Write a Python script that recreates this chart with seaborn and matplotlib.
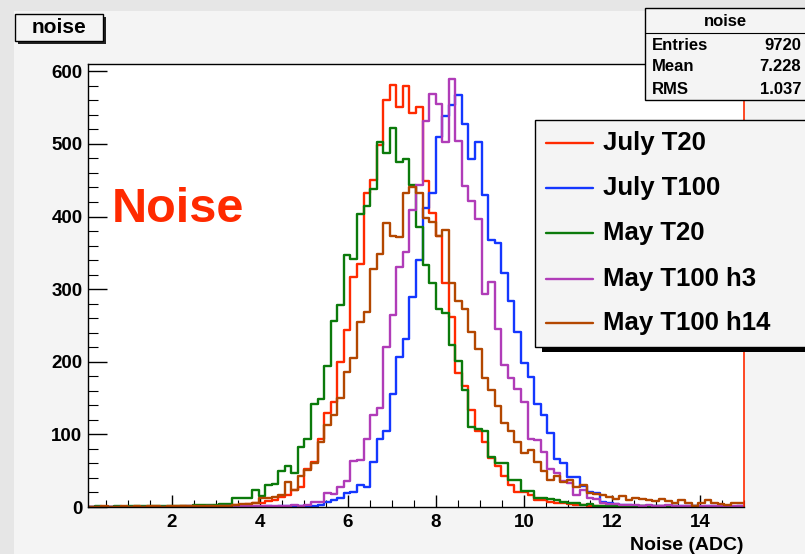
import numpy as np
import pandas as pd
import matplotlib
matplotlib.use("Agg")
import matplotlib.pyplot as plt
import seaborn as sns
from matplotlib.patches import Rectangle
from matplotlib.lines import Line2D
from matplotlib.ticker import MultipleLocator

# ---------------- data ----------------
series_names = ["July T20", "July T100", "May T20", "May T100 h3", "May T100 h14"]
series_colors = ["#ff2a00", "#1437ff", "#0b7a0b", "#b03cb8", "#b34700"]
bin_lo, bin_hi, n_bins = 0.1, 15.0, 100

july_t20 = [0, 0, 0, 0, 0, 0, 0, 0, 0, 0,
            0, 0, 0, 0, 1, 0, 0, 1, 0, 1,
            1, 2, 3, 3, 4, 5, 5, 8, 10, 14,
            17, 23, 27, 52, 62, 93, 130, 145, 200, 244,
            317, 335, 432, 450, 498, 560, 581, 551, 580, 543,
            551, 449, 405, 373, 308, 262, 185, 166, 133, 104,
            89, 68, 56, 42, 30, 21, 20, 17, 10, 9,
            7, 6, 5, 4, 3, 3, 2, 2, 2, 1,
            1, 1, 1, 0, 1, 0, 0, 1, 0, 0,
            0, 0, 0, 0, 0, 0, 0, 0, 0, 0]

july_t100 = [0, 0, 0, 0, 0, 0, 0, 0, 0, 0,
             0, 0, 0, 0, 0, 0, 0, 0, 0, 0,
             0, 0, 0, 0, 0, 0, 0, 1, 0, 1,
             1, 1, 1, 1, 2, 3, 7, 9, 12, 19,
             20, 30, 27, 62, 94, 104, 156, 207, 232, 289,
             340, 412, 433, 509, 538, 554, 568, 528, 479, 503,
             429, 367, 364, 322, 283, 241, 198, 179, 142, 127,
             102, 66, 60, 41, 41, 29, 20, 19, 7, 5,
             4, 3, 3, 2, 2, 2, 1, 1, 1, 2,
             1, 1, 1, 0, 1, 1, 0, 1, 0, 1]

may_t20 = [0, 1, 0, 0, 1, 0, 1, 1, 1, 2,
           1, 1, 2, 1, 2, 2, 3, 3, 3, 3,
           4, 4, 12, 12, 12, 24, 15, 30, 31, 49,
           56, 47, 83, 94, 142, 149, 194, 256, 278, 347,
           341, 403, 414, 438, 502, 488, 522, 475, 479, 443,
           386, 333, 309, 272, 267, 223, 201, 161, 110, 108,
           104, 69, 61, 60, 37, 37, 22, 22, 12, 12,
           11, 9, 7, 6, 5, 3, 4, 2, 2, 2,
           1, 1, 1, 0, 1, 0, 1, 0, 0, 1,
           0, 0, 1, 0, 0, 0, 0, 0, 0, 0]

may_t100_h3 = [0, 0, 0, 0, 0, 0, 0, 0, 0, 0,
               0, 0, 0, 0, 0, 1, 0, 0, 1, 0,
               1, 1, 1, 1, 1, 2, 1, 2, 2, 2,
               2, 3, 2, 3, 7, 7, 19, 18, 27, 36,
               64, 65, 93, 126, 136, 221, 264, 331, 351, 409,
               443, 532, 569, 555, 503, 589, 504, 442, 421, 396,
               293, 310, 245, 195, 177, 163, 145, 94, 92, 76,
               52, 47, 36, 33, 17, 23, 12, 11, 6, 4,
               4, 3, 3, 3, 2, 3, 2, 2, 3, 2,
               2, 1, 2, 2, 1, 1, 2, 1, 1, 1]

may_t100_h14 = [0, 0, 1, 0, 0, 1, 0, 1, 0, 1,
                1, 0, 1, 1, 1, 1, 1, 1, 2, 1,
                2, 2, 3, 4, 4, 5, 12, 13, 14, 17,
                35, 24, 42, 51, 60, 89, 113, 126, 150, 186,
                205, 255, 268, 328, 349, 391, 373, 372, 433, 440,
                433, 398, 393, 373, 382, 309, 284, 273, 241, 218,
                178, 161, 139, 115, 104, 89, 75, 78, 62, 50,
                37, 43, 35, 37, 27, 30, 19, 18, 17, 14,
                11, 15, 9, 12, 11, 9, 8, 11, 8, 5,
                10, 5, 2, 6, 9, 6, 4, 3, 6, 6]

y_ticks = [0, 100, 200, 300, 400, 500, 600]
x_ticks = [2, 4, 6, 8, 10, 12, 14]
stat_rows = [("Entries", "9720"), ("Mean", "7.228"), ("RMS", "1.037")]

# ---------------- build table ----------------
edges = np.linspace(bin_lo, bin_hi, n_bins + 1)
centers = 0.5 * (edges[:-1] + edges[1:])
all_counts = [july_t20, july_t100, may_t20, may_t100_h3, may_t100_h14]
df = pd.concat([pd.DataFrame({"noise": centers, "count": np.array(c, dtype=float), "series": n})
                for n, c in zip(series_names, all_counts)], ignore_index=True)
palette = dict(zip(series_names, series_colors))

# ---------------- figure ----------------
sns.set_style("white")
plt.rcParams["font.family"] = ["Liberation Sans", "DejaVu Sans"]
plt.rcParams["font.weight"] = "bold"
plt.rcParams["text.color"] = "black"
plt.rcParams["axes.labelcolor"] = "black"
plt.rcParams["xtick.color"] = "black"
plt.rcParams["ytick.color"] = "black"

W, H = 805, 554
fig = plt.figure(figsize=(W / 100, H / 100), dpi=100)
fig.patch.set_facecolor("#e6e6e6")


def fx(px):
    return px / W


def fy(py):
    return 1 - py / H


# canvas
fig.add_artist(Rectangle((fx(14), 0), 1 - fx(14), fy(11), transform=fig.transFigure,
                         facecolor="#f4f4f4", edgecolor="none", zorder=0))

ax = fig.add_axes([fx(88), fy(507), fx(744) - fx(88), fy(64) - fy(507)])
ax.set_facecolor("white")

bin_list = [float(e) for e in edges]
for name in series_names:
    sub = df[df["series"] == name].reset_index(drop=True)
    sns.histplot(data=sub, x="noise", weights="count", bins=bin_list, element="step",
                 fill=False, color=palette[name], linewidth=1.7, ax=ax, legend=False)

ax.set_xlim(bin_lo, bin_hi)
ax.set_ylim(0, 610)
ax.set_xticks(x_ticks)
ax.set_yticks(y_ticks)
ax.xaxis.set_minor_locator(MultipleLocator(0.5))
ax.yaxis.set_minor_locator(MultipleLocator(20))
ax.tick_params(axis="y", which="major", direction="in", length=14, width=1.0,
               labelsize=13.5, pad=4, colors="black")
ax.tick_params(axis="y", which="minor", direction="in", length=7, width=0.8, colors="black")
ax.tick_params(axis="x", which="major", direction="in", length=9, width=1.0,
               labelsize=13.5, pad=5, colors="black")
ax.tick_params(axis="x", which="minor", direction="in", length=5, width=0.8, colors="black")
ax.tick_params(left=True, bottom=True, which="both")
for lab in ax.get_xticklabels() + ax.get_yticklabels():
    lab.set_fontweight("bold")
ax.set_ylabel("")
ax.set_xlabel("Noise (ADC)", fontsize=14, fontweight="bold", loc="right", labelpad=4,
              color="black")
for s in ["left", "top", "bottom"]:
    ax.spines[s].set_color("black")
    ax.spines[s].set_linewidth(1.0)
ax.spines["right"].set_color("#ff2a00")
ax.spines["right"].set_linewidth(1.2)

# big red label
fig.text(fx(112), fy(222), "Noise", color="#ff2a00", fontsize=35, fontweight="bold",
         ha="left", va="baseline")

# title box "noise"
fig.add_artist(Rectangle((fx(18), fy(44)), fx(103) - fx(15), fy(14) - fy(41),
                         transform=fig.transFigure, facecolor="#222222", edgecolor="none", zorder=3))
fig.add_artist(Rectangle((fx(15), fy(41)), fx(103) - fx(15), fy(14) - fy(41),
                         transform=fig.transFigure, facecolor="#f4f4f4", edgecolor="black",
                         linewidth=1.0, zorder=4))
fig.text(fx(59), fy(27.5), "noise", fontsize=15, fontweight="bold", ha="center", va="center",
         zorder=5, color="black")

# stat box
fig.add_artist(Rectangle((fx(645), fy(100)), fx(810) - fx(645), fy(8) - fy(100),
                         transform=fig.transFigure, facecolor="#f4f4f4", edgecolor="black",
                         linewidth=1.0, zorder=4))
fig.add_artist(Line2D([fx(645), fx(805)], [fy(33), fy(33)], transform=fig.transFigure,
                      color="black", linewidth=0.8, zorder=5))
fig.text(fx(725), fy(21), "noise", fontsize=12, fontweight="bold", ha="center", va="center",
         zorder=5, color="black")
for i, (lab, val) in enumerate(stat_rows):
    yy = fy(45 + 22 * i)
    fig.text(fx(652), yy, lab, fontsize=12, fontweight="bold", ha="left", va="center",
             zorder=5, color="black")
    fig.text(fx(801), yy, val, fontsize=12, fontweight="bold", ha="right", va="center",
             zorder=5, color="black")

# legend box
fig.add_artist(Rectangle((fx(542), fy(352)), fx(820) - fx(542), fy(127) - fy(352),
                         transform=fig.transFigure, facecolor="black", edgecolor="none", zorder=6))
fig.add_artist(Rectangle((fx(535), fy(347)), fx(815) - fx(535), fy(120) - fy(347),
                         transform=fig.transFigure, facecolor="#f4f4f4", edgecolor="black",
                         linewidth=1.0, zorder=7))
leg_y = [143, 188, 233, 279, 323]
for name, col, py in zip(series_names, series_colors, leg_y):
    fig.add_artist(Line2D([fx(546), fx(593)], [fy(py), fy(py)], transform=fig.transFigure,
                          color=col, linewidth=1.7, zorder=8))
    fig.text(fx(603), fy(py), name, fontsize=18.5, fontweight="bold", ha="left", va="center",
             zorder=8, color="black")

fig.savefig("out.png", dpi=100, facecolor=fig.get_facecolor())
